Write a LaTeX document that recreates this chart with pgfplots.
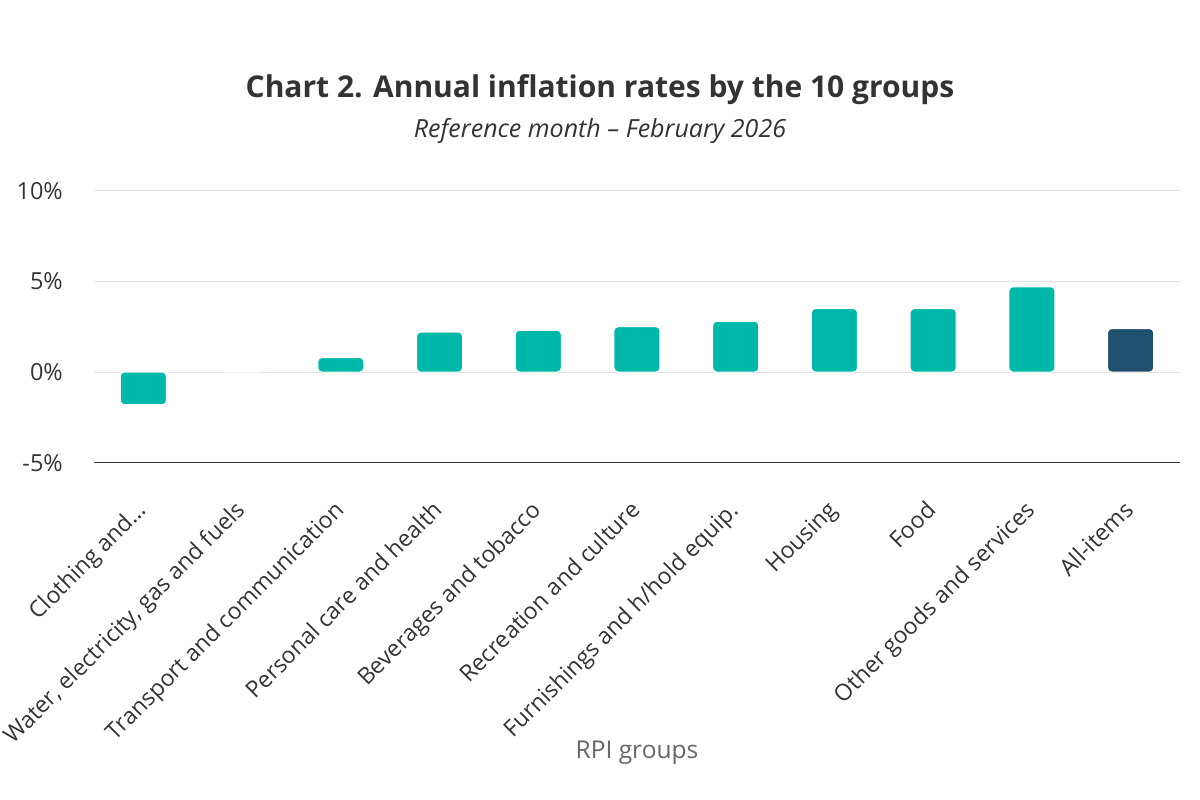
\documentclass[border=0pt]{standalone}
\usepackage{pgfplots}
\pgfplotsset{compat=1.18}
\usepackage{fontspec}
\setmainfont{Open Sans}
\definecolor{barteal}{HTML}{00B8A9}
\definecolor{bardark}{HTML}{1F506E}
\definecolor{txtdark}{HTML}{333333}
\definecolor{txtgray}{HTML}{666666}
\definecolor{gridgray}{HTML}{E3E3E3}

\begin{document}
\begin{tikzpicture}[x=1pt,y=1pt]
\useasboundingbox (0,0) rectangle (1200,800);
% title and subtitle
\node[font=\bfseries\fontsize{30}{36}\selectfont, text=txtdark] at (600,710) {Chart 2. Annual inflation rates by the 10 groups};
\node[font=\itshape\fontsize{25}{30}\selectfont, text=txtdark] at (600,669) {Reference month – February 2026};
\begin{axis}[
    at={(94pt,337.3pt)}, anchor=south west,
    scale only axis, width=1086pt, height=272pt,
    xmin=-0.5, xmax=10.5, ymin=-5, ymax=10,
    ytick={-5,0,5,10},
    yticklabel={\pgfmathprintnumber{\tick}\%},
    /pgf/number format/assume math mode=true,
    xtick={0,1,2,3,4,5,6,7,8,9,10},
    xticklabels={{Clothing and…}, {Water, electricity, gas and fuels}, {Transport and communication}, {Personal care and health}, {Beverages and tobacco}, {Recreation and culture}, {Furnishings and h/hold equip.}, {Housing}, {Food}, {Other goods and services}, {All-items}},
    x tick label style={rotate=45, anchor=north east, inner sep=0pt, xshift=-31.5pt, yshift=-20pt, font=\fontsize{23}{27}\selectfont, text=txtdark},
    y tick label style={anchor=east, inner sep=0pt, xshift=-31pt, font=\fontsize{23.5}{28}\selectfont, text=txtdark},
    major tick length=0pt,
    ymajorgrids, grid style={draw=gridgray, line width=1pt},
    axis x line*=bottom, axis y line*=left,
    x axis line style={draw=txtdark, line width=1.5pt, -},
    y axis line style={draw=none},
    ybar, bar width=46pt,
    clip=false,
]
\addplot[fill=barteal, draw=white, line width=1pt, rounded corners=4pt, bar shift=0pt] coordinates {
    (0,-1.8) (1,0) (2,0.8) (3,2.2) (4,2.3) (5,2.5) (6,2.8) (7,3.5) (8,3.5) (9,4.7)};
\addplot[fill=bardark, draw=white, line width=1pt, rounded corners=4pt, bar shift=0pt] coordinates {(10,2.4)};
\end{axis}
\node[font=\fontsize{24.5}{29}\selectfont, text=txtgray] at (637,47) {RPI groups};
\end{tikzpicture}
\end{document}
